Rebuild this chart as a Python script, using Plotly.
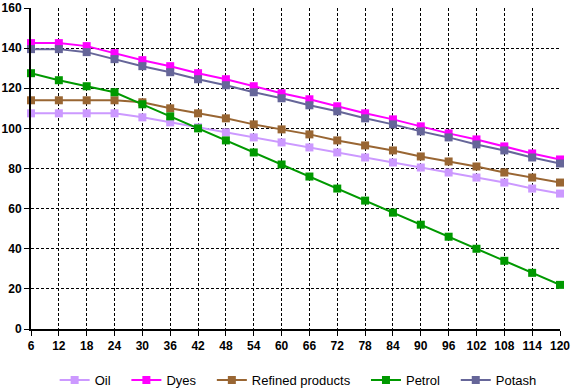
import plotly.graph_objects as go

months = [6, 12, 18, 24, 30, 36, 42, 48, 54, 60, 66, 72, 78, 84, 90, 96, 102, 108, 114, 120]
oil = [107.5, 107.5, 107.5, 107.5, 105.5, 103, 100.5, 98, 95.5, 93, 90.5, 88, 85.5, 83, 80.5, 78, 75.5, 73, 70, 67.5]
dyes = [142.5, 142.5, 141, 137.5, 134, 131, 127.5, 124.5, 121, 117.5, 114.5, 111, 107.5, 104.5, 101, 97.5, 94.5, 91, 87.5, 84.5]
refined = [114, 114, 114, 114, 113, 110, 107.5, 105, 102, 99.5, 97, 94, 91.5, 89, 86, 83.5, 81, 78, 75.5, 73]
petrol = [127.5, 124, 121, 118, 112, 106, 100, 94, 88, 82, 76, 70, 64, 58, 52, 46, 40, 34, 28, 22]
potash = [139.5, 139.5, 138, 134.5, 131, 128, 124.5, 121.5, 118, 115, 111.5, 108.5, 105, 102, 98.5, 95.5, 92, 89, 85.5, 82.5]
y_ticks = [0, 20, 40, 60, 80, 100, 120, 140, 160]

series = [
    ("Oil", oil, "#CC99FF"),
    ("Dyes", dyes, "#FF00FF"),
    ("Refined products", refined, "#996633"),
    ("Petrol", petrol, "#009900"),
    ("Potash", potash, "#666699"),
]

PAD = "\u00a0\u00a0\u00a0"

fig = go.Figure()
for i, (name, vals, color) in enumerate(series):
    label = name + (PAD if i < len(series) - 1 else "")
    fig.add_trace(go.Scatter(
        x=months, y=vals, name=label, mode="lines+markers",
        line=dict(color=color, width=2),
        marker=dict(symbol="square", size=8, color=color),
        cliponaxis=False,
    ))

fam = "Liberation Sans, Arial, sans-serif"
fig.update_layout(
    width=572, height=389,
    margin=dict(l=31, r=12, t=8, b=60, autoexpand=False),
    paper_bgcolor="white", plot_bgcolor="white",
    font=dict(family=fam, size=12, color="black"),
    showlegend=True,
    legend=dict(orientation="h", x=0.505, xanchor="center", y=-0.159, yanchor="middle",
                font=dict(family=fam, size=13, color="black"),
                itemwidth=30, tracegroupgap=0),
)
axis_common = dict(
    showline=True, linecolor="black", linewidth=2,
    ticks="outside", ticklen=5, tickcolor="black", tickwidth=1,
    showgrid=True, gridcolor="black", gridwidth=1, griddash="3px,2px",
    tickfont=dict(family=fam, size=12, color="black", weight="bold"),
    zeroline=False, automargin=False,
)
fig.update_xaxes(range=[6, 120], tickvals=months, ticktext=[str(m) for m in months], **axis_common)
fig.update_yaxes(range=[0, 160], tickvals=y_ticks, **axis_common)
fig.write_html("out.html", config={"displayModeBar": False},
               post_script="document.body.style.margin='0';document.body.style.overflow='hidden';")
